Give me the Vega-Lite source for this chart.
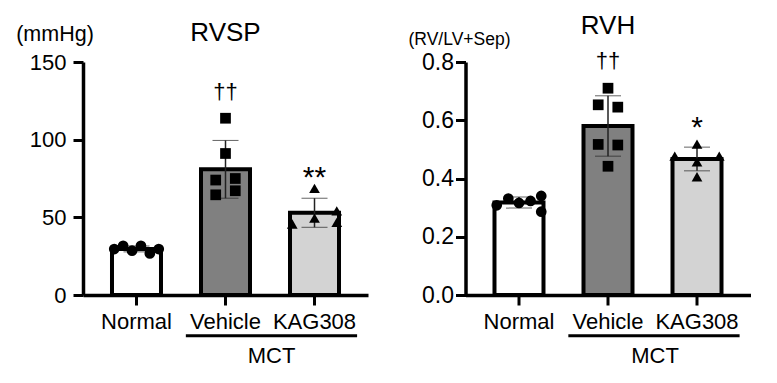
{
  "$schema": "https://vega.github.io/schema/vega-lite/v6.json",
  "background": "white",
  "padding": {"left": 15, "top": 12, "right": 5, "bottom": 5},
  "config": {
    "font": "Liberation Sans",
    "view": {"stroke": null},
    "title": {"font": "Liberation Sans", "fontWeight": "normal", "color": "black"},
    "axis": {
      "domainColor": "black", "domainWidth": 3.5, "tickColor": "black", "tickWidth": 3, "tickSize": 10,
      "labelColor": "black", "labelFont": "Liberation Sans", "titleFont": "Liberation Sans",
      "titleFontWeight": "normal", "titleColor": "black", "grid": false
    }
  },
  "hconcat": [
    {
      "width": 285, "height": 233,
      "title": {"text": "RVSP", "fontSize": 26, "baseline": "alphabetic", "offset": -43.6},
      "data": {"values": [
        {"group": "Normal", "value": 29.6, "slot": -2.5},
        {"group": "Normal", "value": 31.7, "slot": -1.5},
        {"group": "Normal", "value": 28.5, "slot": -0.5},
        {"group": "Normal", "value": 31.7, "slot": 0.5},
        {"group": "Normal", "value": 26.8, "slot": 1.5},
        {"group": "Normal", "value": 29.6, "slot": 2.5},
        {"group": "Vehicle", "value": 113.8, "slot": 0},
        {"group": "Vehicle", "value": 91.1, "slot": 0},
        {"group": "Vehicle", "value": 74.0, "slot": -1.1},
        {"group": "Vehicle", "value": 75.0, "slot": 1.1},
        {"group": "Vehicle", "value": 64.5, "slot": -1.1},
        {"group": "Vehicle", "value": 67.1, "slot": 1.1},
        {"group": "KAG308", "value": 68.6, "slot": 0},
        {"group": "KAG308", "value": 45.7, "slot": -2.5},
        {"group": "KAG308", "value": 49.5, "slot": 0},
        {"group": "KAG308", "value": 54.2, "slot": 2.5},
        {"group": "KAG308", "value": 46.7, "slot": 2.5}
      ]},
      "layer": [
        {
          "mark": {"type": "bar", "stroke": "black", "strokeWidth": 4, "width": 49},
          "encoding": {
            "x": {"field": "group", "type": "nominal", "sort": ["Normal", "Vehicle", "KAG308"], "title": "MCT",
              "scale": {"paddingInner": 0.45, "paddingOuter": 0.326},
              "axis": {"labelAngle": 0, "labelFontSize": 22, "labelBaseline": "alphabetic", "labelPadding": 23.7,
                "titleFontSize": 22, "titleAngle": 0, "titleAlign": "center", "titleBaseline": "alphabetic", "titleX": 188, "titleY": 67.5}},
            "y": {"aggregate": "mean", "field": "value", "type": "quantitative", "title": "(mmHg)",
              "scale": {"domain": [0, 150], "nice": false},
              "axis": {"values": [0, 50, 100, 150], "labelFontSize": 22, "labelPadding": 7,
                "titleFontSize": 21.5, "titleAngle": 0, "titleAlign": "center", "titleBaseline": "alphabetic", "titleX": -28.5, "titleY": -21.7}},
            "fill": {"field": "group", "type": "nominal",
              "scale": {"domain": ["Normal", "Vehicle", "KAG308"], "range": ["#ffffff", "#808080", "#d3d3d3"]}, "legend": null}
          }
        },
        {
          "mark": {"type": "errorbar", "extent": "stdev",
            "ticks": {"size": 26, "color": "#222222", "strokeWidth": 1.5},
            "rule": {"color": "#222222", "strokeWidth": 1.5}},
          "encoding": {
            "x": {"field": "group", "type": "nominal", "sort": ["Normal", "Vehicle", "KAG308"], "title": "MCT"},
            "y": {"field": "value", "type": "quantitative", "title": "(mmHg)"}
          }
        },
        {
          "mark": {"type": "point", "filled": true, "color": "black", "opacity": 1, "size": 115},
          "encoding": {
            "x": {"field": "group", "type": "nominal", "sort": ["Normal", "Vehicle", "KAG308"], "title": "MCT"},
            "xOffset": {"field": "slot", "type": "quantitative", "scale": {"domain": [-2.75, 2.75]}},
            "y": {"field": "value", "type": "quantitative", "title": "(mmHg)"},
            "shape": {"field": "group", "type": "nominal",
              "scale": {"domain": ["Normal", "Vehicle", "KAG308"], "range": ["circle", "square", "triangle-up"]}, "legend": null}
          }
        },
        {
          "data": {"values": [{"group": "Vehicle", "label": "††", "pos": 130.9}]},
          "mark": {"type": "text", "fontSize": 22, "baseline": "middle", "color": "black"},
          "encoding": {
            "x": {"field": "group", "type": "nominal", "sort": ["Normal", "Vehicle", "KAG308"], "title": "MCT"},
            "y": {"field": "pos", "type": "quantitative", "title": "(mmHg)"},
            "text": {"field": "label"}
          }
        },
        {
          "data": {"values": [{"group": "KAG308", "label": "**", "pos": 69.6}]},
          "mark": {"type": "text", "fontSize": 30, "baseline": "alphabetic", "color": "black"},
          "encoding": {
            "x": {"field": "group", "type": "nominal", "sort": ["Normal", "Vehicle", "KAG308"], "title": "MCT"},
            "y": {"field": "pos", "type": "quantitative", "title": "(mmHg)"},
            "text": {"field": "label"}
          }
        },
        {
          "data": {"values": [{"bracket": "MCT"}]},
          "mark": {"type": "rule", "strokeWidth": 3, "color": "black"},
          "encoding": {
            "x": {"datum": "Vehicle", "type": "nominal", "bandPosition": -0.31, "title": "MCT"},
            "x2": {"datum": "KAG308", "bandPosition": 1.37},
            "y": {"datum": -26.2, "type": "quantitative", "title": "(mmHg)"}
          }
        }
      ]
    },
    {
      "width": 285, "height": 233,
      "title": {"text": "RVH", "fontSize": 26, "baseline": "alphabetic", "offset": -29.2},
      "data": {"values": [
        {"group": "Normal", "value": 0.308, "slot": -2.5},
        {"group": "Normal", "value": 0.331, "slot": -1.2},
        {"group": "Normal", "value": 0.316, "slot": 0},
        {"group": "Normal", "value": 0.323, "slot": 1.3},
        {"group": "Normal", "value": 0.340, "slot": 2.5},
        {"group": "Normal", "value": 0.286, "slot": 2.5},
        {"group": "Vehicle", "value": 0.710, "slot": 0},
        {"group": "Vehicle", "value": 0.653, "slot": -1.1},
        {"group": "Vehicle", "value": 0.645, "slot": 1.1},
        {"group": "Vehicle", "value": 0.517, "slot": -1.1},
        {"group": "Vehicle", "value": 0.515, "slot": 1.1},
        {"group": "Vehicle", "value": 0.442, "slot": 0},
        {"group": "KAG308", "value": 0.518, "slot": 0},
        {"group": "KAG308", "value": 0.477, "slot": -2.5},
        {"group": "KAG308", "value": 0.457, "slot": 0},
        {"group": "KAG308", "value": 0.477, "slot": 2.5},
        {"group": "KAG308", "value": 0.406, "slot": 0}
      ]},
      "layer": [
        {
          "mark": {"type": "bar", "stroke": "black", "strokeWidth": 4, "width": 49},
          "encoding": {
            "x": {"field": "group", "type": "nominal", "sort": ["Normal", "Vehicle", "KAG308"], "title": "MCT",
              "scale": {"paddingInner": 0.45, "paddingOuter": 0.326},
              "axis": {"labelAngle": 0, "labelFontSize": 22, "labelBaseline": "alphabetic", "labelPadding": 23.7,
                "titleFontSize": 22, "titleAngle": 0, "titleAlign": "center", "titleBaseline": "alphabetic", "titleX": 189, "titleY": 67.5}},
            "y": {"aggregate": "mean", "field": "value", "type": "quantitative", "title": "(RV/LV+Sep)",
              "scale": {"domain": [0, 0.8], "nice": false},
              "axis": {"values": [0, 0.2, 0.4, 0.6, 0.8], "format": ".1f", "labelFontSize": 23, "labelPadding": 2,
                "titleFontSize": 17.5, "titleAngle": 0, "titleAlign": "center", "titleBaseline": "alphabetic", "titleX": -6.5, "titleY": -17.4}},
            "fill": {"field": "group", "type": "nominal",
              "scale": {"domain": ["Normal", "Vehicle", "KAG308"], "range": ["#ffffff", "#808080", "#d3d3d3"]}, "legend": null}
          }
        },
        {
          "mark": {"type": "errorbar", "extent": "stdev",
            "ticks": {"size": 26, "color": "#222222", "strokeWidth": 1.5},
            "rule": {"color": "#222222", "strokeWidth": 1.5}},
          "encoding": {
            "x": {"field": "group", "type": "nominal", "sort": ["Normal", "Vehicle", "KAG308"], "title": "MCT"},
            "y": {"field": "value", "type": "quantitative", "title": "(RV/LV+Sep)"}
          }
        },
        {
          "mark": {"type": "point", "filled": true, "color": "black", "opacity": 1, "size": 115},
          "encoding": {
            "x": {"field": "group", "type": "nominal", "sort": ["Normal", "Vehicle", "KAG308"], "title": "MCT"},
            "xOffset": {"field": "slot", "type": "quantitative", "scale": {"domain": [-2.75, 2.75]}},
            "y": {"field": "value", "type": "quantitative", "title": "(RV/LV+Sep)"},
            "shape": {"field": "group", "type": "nominal",
              "scale": {"domain": ["Normal", "Vehicle", "KAG308"], "range": ["circle", "square", "triangle-up"]}, "legend": null}
          }
        },
        {
          "data": {"values": [{"group": "Vehicle", "label": "††", "pos": 0.805}]},
          "mark": {"type": "text", "fontSize": 22, "baseline": "middle", "color": "black"},
          "encoding": {
            "x": {"field": "group", "type": "nominal", "sort": ["Normal", "Vehicle", "KAG308"], "title": "MCT"},
            "y": {"field": "pos", "type": "quantitative", "title": "(RV/LV+Sep)"},
            "text": {"field": "label"}
          }
        },
        {
          "data": {"values": [{"group": "KAG308", "label": "*", "pos": 0.541}]},
          "mark": {"type": "text", "fontSize": 30, "baseline": "alphabetic", "color": "black"},
          "encoding": {
            "x": {"field": "group", "type": "nominal", "sort": ["Normal", "Vehicle", "KAG308"], "title": "MCT"},
            "y": {"field": "pos", "type": "quantitative", "title": "(RV/LV+Sep)"},
            "text": {"field": "label"}
          }
        },
        {
          "data": {"values": [{"bracket": "MCT"}]},
          "mark": {"type": "rule", "strokeWidth": 3, "color": "black"},
          "encoding": {
            "x": {"datum": "Vehicle", "type": "nominal", "bandPosition": -0.31, "title": "MCT"},
            "x2": {"datum": "KAG308", "bandPosition": 1.37},
            "y": {"datum": -0.140, "type": "quantitative", "title": "(RV/LV+Sep)"}
          }
        }
      ]
    }
  ],
  "spacing": 97.5,
  "bounds": "flush"
}
